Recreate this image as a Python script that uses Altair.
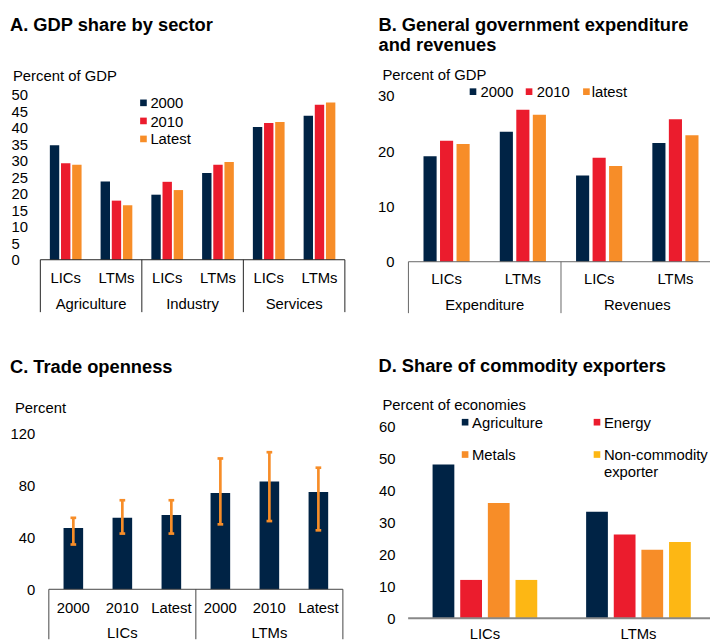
import altair as alt
import pandas as pd

FONT = "Liberation Sans, Arial, Helvetica, sans-serif"
NAVY, RED, ORANGE, YELLOW = "#002345", "#EB1C2D", "#F78D28", "#FDB714"

# ---------------- data ----------------
# Panel A: GDP share by sector
a_sectors = ["Agriculture", "Industry", "Services"]
a_groups = ["LICs", "LTMs"]
a_series = ["2000", "2010", "Latest"]
a_2000 = [34.7, 23.7, 19.7, 26.3, 40.2, 43.6]
a_2010 = [29.2, 17.9, 23.6, 28.8, 41.4, 46.9]
a_latest = [28.8, 16.5, 21.1, 29.6, 41.7, 47.6]
a_ticks = [0, 5, 10, 15, 20, 25, 30, 35, 40, 45, 50]

# Panel B: General government expenditure and revenues
b_types = ["Expenditure", "Revenues"]
b_groups = ["LICs", "LTMs"]
b_series = ["2000", "2010", "latest"]
b_2000 = [19.1, 23.5, 15.6, 21.5]
b_2010 = [21.9, 27.5, 18.8, 25.8]
b_latest = [21.3, 26.6, 17.3, 22.9]
b_ticks = [0, 10, 20, 30]

# Panel C: Trade openness
c_groups = ["LICs", "LTMs"]
c_years = ["2000", "2010", "Latest"]
c_value = [47.1, 54.9, 57.0, 73.9, 82.8, 74.7]
c_low = [34.4, 42.8, 42.8, 49.9, 52.4, 45.3]
c_high = [54.9, 68.4, 68.4, 100.5, 105.3, 93.4]
c_ticks = [0, 40, 80, 120]

# Panel D: Share of commodity exporters
d_groups = ["LICs", "LTMs"]
d_series = ["Agriculture", "Energy", "Metals", "Non-commodity exporter"]
d_lics = [48.0, 12.0, 36.0, 12.0]
d_ltms = [33.3, 26.2, 21.4, 23.8]
d_ticks = [0, 10, 20, 30, 40, 50, 60]


# ---------------- helpers ----------------
def txt(text, x, y, size=15, bold=False, align="left", linebreak=None, lh=None):
    mk = dict(align=align, baseline="alphabetic", fontSize=size, font=FONT, color="black")
    if bold:
        mk["fontWeight"] = "bold"
    if linebreak:
        mk["lineBreak"] = linebreak
        mk["lineHeight"] = lh
    return alt.Chart(pd.DataFrame({"t": [text]})).mark_text(**mk).encode(
        text="t:N", x=alt.value(x), y=alt.value(y))


def bars_df(series, values, pitch, width):
    rows = []
    n = len(series)
    for k, (s, vals) in enumerate(zip(series, values)):
        for i, v in enumerate(vals):
            c = i + 0.5 + (k - (n - 1) / 2) * pitch
            rows.append(dict(series=s, x0=c - width / 2, x1=c + width / 2, v=v, base=0))
    return pd.DataFrame(rows)


def yaxis(values, offset, pad, align="right"):
    return alt.Axis(values=values, offset=-offset, labelPadding=pad, labelAlign=align,
                    ticks=False, tickSize=0, domain=False, grid=False, title=None,
                    labelFont=FONT, labelFontSize=15, labelColor="black",
                    labelOverlap=False, labelFlush=False)


def bar_layer(df, xs, ys, yax, series, colors):
    return alt.Chart(df).mark_bar().encode(
        x=alt.X("x0:Q", scale=xs, axis=None), x2="x1",
        y=alt.Y("v:Q", scale=ys, axis=yax), y2="base",
        color=alt.Color("series:N", scale=alt.Scale(domain=series, range=colors), legend=None))


def baseline(n, xs, ys, yax, color, sw=1):
    df = pd.DataFrame({"x0": [0], "x1": [n], "y": [0]})
    return alt.Chart(df).mark_rule(color=color, strokeWidth=sw, clip=True).encode(
        x=alt.X("x0:Q", scale=xs, axis=None), x2="x1",
        y=alt.Y("y:Q", scale=ys, axis=yax))


def separators(xpos, xs, ys, yax, bottom, color):
    df = pd.DataFrame({"x": xpos, "y": [0] * len(xpos)})
    return alt.Chart(df).mark_rule(color=color, strokeWidth=1, clip=True).encode(
        x=alt.X("x:Q", scale=xs, axis=None),
        y=alt.Y("y:Q", scale=ys, axis=yax), y2=alt.value(bottom))


def labels(names, centers, xs, y):
    df = pd.DataFrame({"t": names, "x": centers})
    return alt.Chart(df).mark_text(baseline="alphabetic", fontSize=15, font=FONT,
                                   color="black", clip=True).encode(
        x=alt.X("x:Q", scale=xs, axis=None), y=alt.value(y), text="t:N")


def legend_item(name, series, colors, sx, sy, tx, ty, size=45, linebreak=None, lh=None):
    sq = alt.Chart(pd.DataFrame({"series": [name]})).mark_square(size=size, opacity=1).encode(
        x=alt.value(sx), y=alt.value(sy),
        color=alt.Color("series:N", scale=alt.Scale(domain=series, range=colors), legend=None))
    return sq + txt(name, tx, ty, linebreak=linebreak, lh=lh)


# ---------------- Panel A ----------------
colA = [NAVY, RED, ORANGE]
xsA = alt.Scale(domain=[0, 6], range=[32.7, 340.7], nice=False, zero=False)
ysA = alt.Scale(domain=[0, 50], range=[251, 84], nice=False, zero=False)
axA = yaxis(a_ticks, 32.7, 29.7, align="left")
dfA = bars_df(a_series, [a_2000, a_2010, a_latest], 0.22, 0.185)
subA = [g for _ in a_sectors for g in a_groups]
panelA = alt.layer(
    bar_layer(dfA, xsA, ysA, axA, a_series, colA),
    baseline(6, xsA, ysA, axA, "#222"),
    separators([0, 2, 4, 6], xsA, ysA, axA, 304, "#222"),
    labels(subA, [i + 0.5 for i in range(6)], xsA, 275),
    labels(a_sectors, [2 * j + 1 for j in range(3)], xsA, 301),
    txt("A. GDP share by sector", 2, 20, size=18.5, bold=True),
    txt("Percent of GDP", 5, 70),
    legend_item(a_series[0], a_series, colA, 137, 92.3, 144, 98),
    legend_item(a_series[1], a_series, colA, 137, 110.6, 144, 116.3),
    legend_item(a_series[2], a_series, colA, 137, 128.8, 144, 134.3),
).properties(width=352, height=327)

# ---------------- Panel B ----------------
colB = [NAVY, RED, ORANGE]
xsB = alt.Scale(domain=[0, 4], range=[53, 361.6], nice=False, zero=False)
ysB = alt.Scale(domain=[0, 30], range=[253, 85.3], nice=False, zero=False)
axB = yaxis(b_ticks, 53, 14.7)
dfB = bars_df(b_series, [b_2000, b_2010, b_latest], 0.2165, 0.172)
subB = [g for _ in b_types for g in b_groups]
panelB = alt.layer(
    bar_layer(dfB, xsB, ysB, axB, b_series, colB),
    baseline(4, xsB, ysB, axB, "#666"),
    separators([0, 2, 4], xsB, ysB, axB, 305, "#666"),
    labels(subB, [i + 0.5 for i in range(4)], xsB, 275.3),
    labels(b_types, [2 * j + 1 for j in range(2)], xsB, 301.7),
    txt("B. General government expenditure", 22.7, 20, size=18.5, bold=True),
    txt("and revenues", 22.7, 40.3, size=18.5, bold=True),
    txt("Percent of GDP", 26.7, 69.3),
    legend_item(b_series[0], b_series, colB, 118.3, 81, 126, 86.3),
    legend_item(b_series[1], b_series, colB, 175, 81, 182.7, 86.3),
    legend_item(b_series[2], b_series, colB, 233, 81, 238.3, 86.3),
).properties(width=358, height=327)

# ---------------- Panel C ----------------
xsC = alt.Scale(domain=[0, 6], range=[41.3, 338.7], nice=False, zero=False)
ysC = alt.Scale(domain=[0, 120], range=[257.3, 99.3], nice=False, zero=False)
axC = yaxis(c_ticks, 41.3, 14.3)
centersC = [i + 0.5 for i in range(6)]
dfC = pd.DataFrame({"x0": [c - 0.2 for c in centersC], "x1": [c + 0.2 for c in centersC],
                    "xc": centersC, "v": c_value, "base": [0] * 6, "lo": c_low, "hi": c_high})
capsC = pd.DataFrame({"x0": [c - 0.058 for c in centersC] * 2,
                      "x1": [c + 0.058 for c in centersC] * 2,
                      "y": c_low + c_high})
barsC = alt.Chart(dfC).mark_bar(color=NAVY).encode(
    x=alt.X("x0:Q", scale=xsC, axis=None), x2="x1",
    y=alt.Y("v:Q", scale=ysC, axis=axC), y2="base")
errC = alt.Chart(dfC).mark_rule(color=ORANGE, strokeWidth=2.7).encode(
    x=alt.X("xc:Q", scale=xsC, axis=None),
    y=alt.Y("lo:Q", scale=ysC, axis=axC), y2="hi")
capC = alt.Chart(capsC).mark_rule(color=ORANGE, strokeWidth=2.7).encode(
    x=alt.X("x0:Q", scale=xsC, axis=None), x2="x1",
    y=alt.Y("y:Q", scale=ysC, axis=axC))
subC = [y for _ in c_groups for y in c_years]
panelC = alt.layer(
    barsC, errC, capC,
    baseline(6, xsC, ysC, axC, "#444"),
    separators([0, 3, 6], xsC, ysC, axC, 308, "#444"),
    labels(subC, centersC, xsC, 281),
    labels(c_groups, [1.5, 4.5], xsC, 306.7),
    txt("C. Trade openness", 2, 38.3, size=18.5, bold=True),
    txt("Percent", 7, 79),
).properties(width=352, height=308)

# ---------------- Panel D ----------------
colD = [NAVY, RED, ORANGE, YELLOW]
xsD = alt.Scale(domain=[0, 2], range=[52.7, 363.3], nice=False, zero=False)
ysD = alt.Scale(domain=[0, 60], range=[286.7, 92.3], nice=False, zero=False)
axD = yaxis(d_ticks, 52.7, 13.4)
d_vals = [[d_lics[k], d_ltms[k]] for k in range(len(d_series))]
dfD = bars_df(d_series, d_vals, 0.18, 0.1417)
panelD = alt.layer(
    bar_layer(dfD, xsD, ysD, axD, d_series, colD),
    baseline(2, xsD, ysD, axD, "#888", sw=2),
    labels(d_groups, [0.5, 1.5], xsD, 307.7),
    txt("D. Share of commodity exporters", 22.7, 38, size=18.5, bold=True),
    txt("Percent of economies", 26.7, 75.7),
    legend_item(d_series[0], d_series, colD, 110.3, 88.3, 117.3, 94),
    legend_item(d_series[1], d_series, colD, 243.7, 88.3, 250.7, 94),
    legend_item(d_series[2], d_series, colD, 110.3, 121, 117.3, 126.7),
    legend_item(d_series[3], d_series, colD, 243.7, 121, 250.7, 126.7,
                linebreak=" ", lh=16.6),
).properties(width=358, height=308)

top = alt.hconcat(panelA, panelB, spacing=0).resolve_scale(x="independent", y="independent",
                                                           color="independent")
bottom = alt.hconcat(panelC, panelD, spacing=0).resolve_scale(x="independent", y="independent",
                                                              color="independent")
chart = alt.vconcat(top, bottom, spacing=0).resolve_scale(
    x="independent", y="independent", color="independent"
).properties(padding=0, background="white").configure_view(stroke=None)

chart.save("out.html", embed_options={"renderer": "svg", "actions": False})
